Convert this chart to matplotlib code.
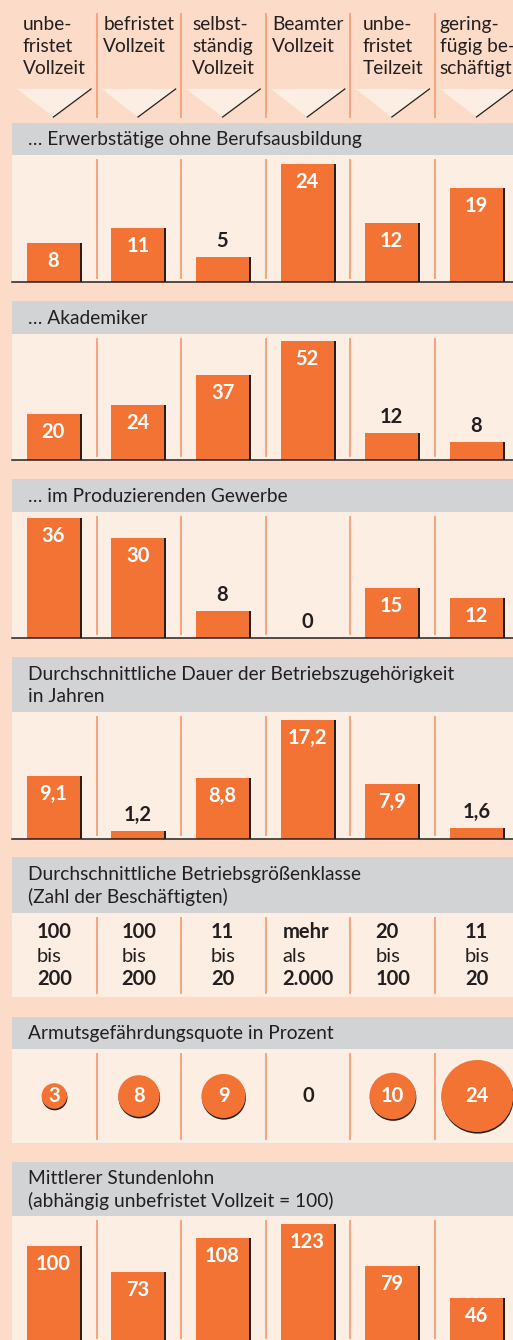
import numpy as np
import matplotlib
matplotlib.use("Agg")
import matplotlib.pyplot as plt
from matplotlib.patches import Polygon
from matplotlib import transforms

plt.rcParams['font.family'] = ['Lato', 'DejaVu Sans']

# data
categories = ["unbe-\nfristet\nVollzeit", "befristet\nVollzeit", "selbst-\nständig\nVollzeit",
              "Beamter\nVollzeit", "unbe-\nfristet\nTeilzeit", "gering-\nfügig be-\nschäftigt"]
ohne_ausbildung = [8, 11, 5, 24, 12, 19]
akademiker = [20, 24, 37, 52, 12, 8]
produzierend = [36, 30, 8, 0, 15, 12]
dauer = [9.1, 1.2, 8.8, 17.2, 7.9, 1.6]
groesse_von = ["100", "100", "11", "mehr", "20", "11"]
groesse_wort = ["bis", "bis", "bis", "als", "bis", "bis"]
groesse_bis = ["200", "200", "20", "2.000", "100", "20"]
armut = [3, 8, 9, 0, 10, 24]
stundenlohn = [100, 73, 108, 123, 79, 46]

PEACH = '#FCDCC8'
LIGHT = '#FCEEE3'
GRAY = '#D1D3D4'
ORANGE = '#F37335'
SEP = '#F6A57C'
DARK = '#231F20'

W, H = 513, 1340
X0 = 12
COLW = 84.6
FS = 13.8
VFS = 14.5
LS = 1.35

fig = plt.figure(figsize=(W / 100, H / 100), dpi=100, facecolor=PEACH)


def px_axes(x0, y0, x1, y1, fc='none'):
    ax = fig.add_axes([x0 / W, 1 - y1 / H, (x1 - x0) / W, (y1 - y0) / H])
    ax.set_facecolor(fc)
    ax.set_xticks([])
    ax.set_yticks([])
    for s in ax.spines.values():
        s.set_visible(False)
    return ax


def fmt(v):
    if isinstance(v, float):
        return f"{v:.1f}".replace('.', ',')
    return str(v)


x = np.arange(6) + 0.5

# column header
hax = px_axes(X0, 0, X0 + 6 * COLW, 120)
hax.set_xlim(0, 6)
hax.set_ylim(120, 0)
for i, lab in enumerate(categories):
    hax.text(i + 0.5, 16, lab, ha='center', va='top', multialignment='left',
             fontsize=FS, color=DARK, linespacing=LS)
    tri = Polygon([[i + 0.06, 89], [i + 0.934, 89], [i + 0.49, 117]], closed=True,
                  facecolor=LIGHT, edgecolor='none')
    hax.add_patch(tri)
    hax.plot([i + 0.934, i + 0.49], [89, 117], color=DARK, lw=0.9)
for s in range(1, 6):
    hax.plot([s, s], [14, 117], color=SEP, lw=1.4)


def title_bar(text, y0, y1):
    ax = px_axes(X0, y0, W, y1, GRAY)
    ax.set_xlim(0, W - X0)
    ax.set_ylim(y1 - y0, 0)
    ax.text(16, (y1 - y0) / 2 + 1, text, ha='left', va='center', fontsize=FS,
            color=DARK, linespacing=LS)


def body(y0, y1, top_pad=5, bot_pad=4):
    ax = px_axes(X0, y0, X0 + 6 * COLW, y1, LIGHT)
    ax.set_xlim(0, 6)
    h = y1 - y0
    for s in range(1, 6):
        ax.axvline(s, ymin=bot_pad / h, ymax=1 - top_pad / h, color=SEP, lw=1.4)
    return ax


def bar_panel(title, gy0, gy1, by1, values, ymax):
    title_bar(title, gy0, gy1)
    ax = body(gy1, by1)
    ax.set_ylim(0, ymax)
    h = by1 - gy1
    ax.bar(x, values, width=0.65, color=DARK, zorder=2)
    ax.bar(x - 0.012, values, width=0.626, color=ORANGE, zorder=3)
    ax.axhline(0, color=DARK, lw=1.1, zorder=4, clip_on=False)
    for xi, v in zip(x, values):
        if v / ymax * h > 30:
            ax.annotate(fmt(v), (xi - 0.012, v), xytext=(0, -8), textcoords='offset pixels',
                        ha='center', va='top', fontsize=VFS, fontweight='bold',
                        color='white', zorder=5)
        else:
            ax.annotate(fmt(v), (xi - 0.012, v), xytext=(0, 6), textcoords='offset pixels',
                        ha='center', va='bottom', fontsize=VFS, fontweight='bold',
                        color=DARK, zorder=5)
    return ax


bar_panel("… Erwerbstätige ohne Berufsausbildung", 123, 155, 282, ohne_ausbildung, 25.8)
bar_panel("… Akademiker", 301, 334, 460, akademiker, 55.1)
bar_panel("… im Produzierenden Gewerbe", 479, 512, 638, produzierend, 37.8)
bar_panel("Durchschnittliche Dauer der Betriebszugehörigkeit\nin Jahren", 657, 712, 839,
          dauer, 18.36)

# Betriebsgroesse
title_bar("Durchschnittliche Betriebsgrößenklasse\n(Zahl der Beschäftigten)", 857, 913)
gax = body(913, 997)
gax.set_ylim(84, 0)
trios = []
for i in range(6):
    t1 = gax.text(i + 0.5, 19, groesse_von[i], ha='left', va='center', fontsize=VFS,
                  fontweight='bold', color=DARK)
    t2 = gax.text(i + 0.5, 43, groesse_wort[i], ha='left', va='center', fontsize=VFS,
                  color=DARK)
    t3 = gax.text(i + 0.5, 66, groesse_bis[i], ha='left', va='center', fontsize=VFS,
                  fontweight='bold', color=DARK)
    trios.append((t1, t2, t3))
r = fig.canvas.get_renderer()
for i, trio in enumerate(trios):
    w = max(t.get_window_extent(r).width for t in trio)
    for t in trio:
        t.set_x(i + 0.5 - w / 2 / COLW)

# Armutsgefaehrdung
title_bar("Armutsgefährdungsquote in Prozent", 1017, 1049)
cax = body(1049, 1143)
cax.set_ylim(-1, 1)
sizes = np.array(armut) * 112
shadow = transforms.offset_copy(cax.transData, fig=fig, x=0.4, y=-1.6, units='dots')
cax.scatter(x, np.zeros(6), s=sizes, color=DARK, linewidths=0, transform=shadow, zorder=2)
cax.scatter(x, np.zeros(6), s=sizes, color=ORANGE, linewidths=0, zorder=3)
for xi, v in zip(x, armut):
    cax.text(xi, 0.0, fmt(v), ha='center', va='center', fontsize=VFS, fontweight='bold',
             color='white' if v > 0 else DARK, zorder=4)

# Stundenlohn
bar_panel("Mittlerer Stundenlohn\n(abhängig unbefristet Vollzeit = 100)", 1162, 1216, 1342,
          stundenlohn, 131.4)

fig.savefig("out.png", dpi=100, facecolor=PEACH)
